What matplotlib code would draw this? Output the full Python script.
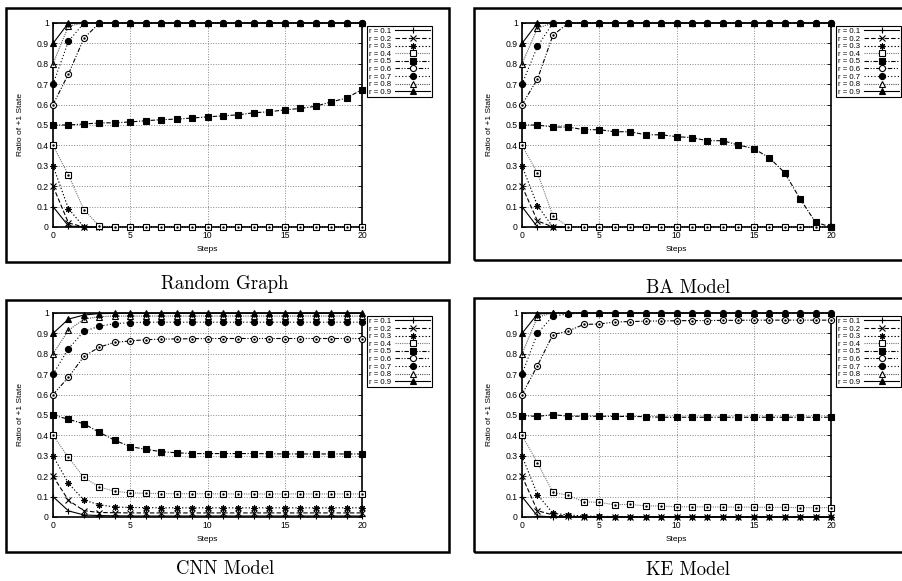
import matplotlib.pyplot as plt
from matplotlib.patches import Rectangle

plt.rcParams['font.family'] = ['Liberation Sans', 'DejaVu Sans']

steps = list(range(21))
labels = ['r = 0.1', 'r = 0.2', 'r = 0.3', 'r = 0.4', 'r = 0.5',
          'r = 0.6', 'r = 0.7', 'r = 0.8', 'r = 0.9']

# Random Graph
rg_01 = [0.1, 0.005, 0, 0, 0, 0, 0, 0, 0, 0, 0, 0, 0, 0, 0, 0, 0, 0, 0, 0, 0]
rg_02 = [0.2, 0.02, 0, 0, 0, 0, 0, 0, 0, 0, 0, 0, 0, 0, 0, 0, 0, 0, 0, 0, 0]
rg_03 = [0.3, 0.09, 0, 0, 0, 0, 0, 0, 0, 0, 0, 0, 0, 0, 0, 0, 0, 0, 0, 0, 0]
rg_04 = [0.4, 0.255, 0.085, 0.005, 0, 0, 0, 0, 0, 0, 0, 0, 0, 0, 0, 0, 0, 0, 0, 0, 0]
rg_05 = [0.5, 0.5, 0.505, 0.51, 0.511, 0.515, 0.521, 0.526, 0.529, 0.534, 0.54,
         0.545, 0.55, 0.56, 0.565, 0.574, 0.581, 0.592, 0.613, 0.632, 0.674]
rg_06 = [0.6, 0.75, 0.925, 1, 1, 1, 1, 1, 1, 1, 1, 1, 1, 1, 1, 1, 1, 1, 1, 1, 1]
rg_07 = [0.7, 0.91, 1, 1, 1, 1, 1, 1, 1, 1, 1, 1, 1, 1, 1, 1, 1, 1, 1, 1, 1]
rg_08 = [0.8, 0.985, 1, 1, 1, 1, 1, 1, 1, 1, 1, 1, 1, 1, 1, 1, 1, 1, 1, 1, 1]
rg_09 = [0.9, 1, 1, 1, 1, 1, 1, 1, 1, 1, 1, 1, 1, 1, 1, 1, 1, 1, 1, 1, 1]

# BA Model
ba_01 = [0.1, 0.0, 0, 0, 0, 0, 0, 0, 0, 0, 0, 0, 0, 0, 0, 0, 0, 0, 0, 0, 0]
ba_02 = [0.2, 0.03, 0, 0, 0, 0, 0, 0, 0, 0, 0, 0, 0, 0, 0, 0, 0, 0, 0, 0, 0]
ba_03 = [0.3, 0.105, 0, 0, 0, 0, 0, 0, 0, 0, 0, 0, 0, 0, 0, 0, 0, 0, 0, 0, 0]
ba_04 = [0.4, 0.265, 0.055, 0, 0, 0, 0, 0, 0, 0, 0, 0, 0, 0, 0, 0, 0, 0, 0, 0, 0]
ba_05 = [0.5, 0.5, 0.49, 0.49, 0.477, 0.477, 0.467, 0.467, 0.452, 0.452, 0.443,
         0.438, 0.423, 0.423, 0.402, 0.384, 0.34, 0.266, 0.138, 0.023, 0.0]
ba_06 = [0.6, 0.725, 0.94, 1, 1, 1, 1, 1, 1, 1, 1, 1, 1, 1, 1, 1, 1, 1, 1, 1, 1]
ba_07 = [0.7, 0.885, 1, 1, 1, 1, 1, 1, 1, 1, 1, 1, 1, 1, 1, 1, 1, 1, 1, 1, 1]
ba_08 = [0.8, 0.975, 1, 1, 1, 1, 1, 1, 1, 1, 1, 1, 1, 1, 1, 1, 1, 1, 1, 1, 1]
ba_09 = [0.9, 1, 1, 1, 1, 1, 1, 1, 1, 1, 1, 1, 1, 1, 1, 1, 1, 1, 1, 1, 1]

# CNN Model
cnn_01 = [0.1, 0.03, 0.01, 0.007, 0.006, 0.005, 0.005, 0.005, 0.005, 0.005, 0.005,
          0.005, 0.005, 0.005, 0.005, 0.005, 0.005, 0.005, 0.005, 0.005, 0.005]
cnn_02 = [0.2, 0.082, 0.031, 0.022, 0.021, 0.02, 0.02, 0.02, 0.02, 0.02, 0.02,
          0.02, 0.02, 0.02, 0.02, 0.02, 0.02, 0.02, 0.02, 0.02, 0.02]
cnn_03 = [0.3, 0.165, 0.083, 0.06, 0.049, 0.047, 0.046, 0.045, 0.045, 0.045, 0.045,
          0.045, 0.045, 0.045, 0.045, 0.045, 0.045, 0.045, 0.045, 0.045, 0.045]
cnn_04 = [0.4, 0.292, 0.194, 0.147, 0.126, 0.118, 0.116, 0.115, 0.114, 0.114, 0.114,
          0.113, 0.113, 0.113, 0.113, 0.113, 0.113, 0.113, 0.113, 0.113, 0.113]
cnn_05 = [0.5, 0.479, 0.457, 0.415, 0.376, 0.345, 0.332, 0.32, 0.315, 0.311, 0.311,
          0.311, 0.311, 0.311, 0.31, 0.309, 0.309, 0.309, 0.309, 0.309, 0.309]
cnn_06 = [0.6, 0.685, 0.787, 0.833, 0.856, 0.863, 0.869, 0.872, 0.873, 0.874, 0.875,
          0.875, 0.875, 0.875, 0.875, 0.875, 0.875, 0.875, 0.875, 0.875, 0.875]
cnn_07 = [0.7, 0.825, 0.91, 0.935, 0.948, 0.953, 0.955, 0.955, 0.955, 0.955, 0.955,
          0.955, 0.955, 0.955, 0.955, 0.955, 0.955, 0.955, 0.955, 0.955, 0.955]
cnn_08 = [0.8, 0.915, 0.97, 0.982, 0.985, 0.985, 0.985, 0.985, 0.985, 0.985, 0.985,
          0.985, 0.985, 0.985, 0.985, 0.985, 0.985, 0.985, 0.985, 0.985, 0.985]
cnn_09 = [0.9, 0.97, 0.99, 0.997, 0.998, 0.999, 0.999, 0.999, 0.999, 0.999, 0.999,
          0.999, 0.999, 0.999, 0.999, 0.999, 0.999, 0.999, 0.999, 0.999, 0.999]

# KE Model
ke_01 = [0.1, 0.005, 0, 0, 0, 0, 0, 0, 0, 0, 0, 0, 0, 0, 0, 0, 0, 0, 0, 0, 0]
ke_02 = [0.2, 0.031, 0.01, 0.003, 0, 0, 0, 0, 0, 0, 0, 0, 0, 0, 0, 0, 0, 0, 0, 0, 0]
ke_03 = [0.3, 0.11, 0.018, 0.01, 0.005, 0.003, 0.002, 0.001, 0, 0, 0,
         0, 0, 0, 0, 0, 0, 0, 0, 0, 0]
ke_04 = [0.4, 0.266, 0.121, 0.106, 0.074, 0.072, 0.06, 0.062, 0.054, 0.054, 0.05,
         0.05, 0.049, 0.049, 0.048, 0.048, 0.047, 0.047, 0.046, 0.046, 0.046]
ke_05 = [0.497, 0.493, 0.502, 0.494, 0.494, 0.494, 0.493, 0.493, 0.492, 0.489, 0.489,
         0.489, 0.489, 0.489, 0.489, 0.489, 0.489, 0.489, 0.489, 0.489, 0.489]
ke_06 = [0.6, 0.742, 0.894, 0.912, 0.944, 0.946, 0.956, 0.958, 0.96, 0.961, 0.962,
         0.963, 0.963, 0.964, 0.964, 0.965, 0.965, 0.965, 0.965, 0.965, 0.965]
ke_07 = [0.7, 0.9, 0.985, 0.995, 1, 1, 1, 1, 1, 1, 1, 1, 1, 1, 1, 1, 1, 1, 1, 1, 1]
ke_08 = [0.8, 0.98, 1, 1, 1, 1, 1, 1, 1, 1, 1, 1, 1, 1, 1, 1, 1, 1, 1, 1, 1]
ke_09 = [0.9, 0.995, 1, 1, 1, 1, 1, 1, 1, 1, 1, 1, 1, 1, 1, 1, 1, 1, 1, 1, 1]

panels = [
    ('Random Graph', [rg_01, rg_02, rg_03, rg_04, rg_05, rg_06, rg_07, rg_08, rg_09]),
    ('BA Model', [ba_01, ba_02, ba_03, ba_04, ba_05, ba_06, ba_07, ba_08, ba_09]),
    ('CNN Model', [cnn_01, cnn_02, cnn_03, cnn_04, cnn_05, cnn_06, cnn_07, cnn_08, cnn_09]),
    ('KE Model', [ke_01, ke_02, ke_03, ke_04, ke_05, ke_06, ke_07, ke_08, ke_09]),
]

# gnuplot-ish line styles: (color, dashes, marker, filled, dot in centre)
styles = [
    ('black', '-', '+', True, False),
    ('black', (0, (4, 2)), 'x', True, False),
    ('black', (0, (1.2, 1.8)), (8, 2, 0), True, False),
    ('#777777', (0, (1, 1)), 's', False, True),
    ('black', (0, (4, 1.5, 1, 1.5)), 's', True, False),
    ('black', (0, (4, 1.5, 1, 1.5, 1, 1.5)), 'o', False, True),
    ('black', (0, (1, 2)), 'o', True, False),
    ('#555555', (0, (1, 1)), '^', False, True),
    ('black', '-', '^', True, False),
]

W, H = 902, 581
fig = plt.figure(figsize=(W / 100, H / 100), dpi=100)

# pixel geometry of each panel: axes left, axes top, frame box, caption centre
layout = [
    (53, 23, (6, 8, 449, 262), (225, 284)),
    (522, 23, (474, 8, 906, 260), (688, 288)),
    (53, 313, (6, 300, 449, 552), (225, 569)),
    (522, 313, (474, 298, 906, 552), (688, 570)),
]
aw, ah = 309, 204

for (title, series), (ax_l, ax_t, frame, cap) in zip(panels, layout):
    ax = fig.add_axes([ax_l / W, 1 - (ax_t + ah) / H, aw / W, ah / H])
    for vals, lab, (col, ls, mk, filled, dot) in zip(series, labels, styles):
        ax.plot(steps, vals, color=col, linestyle=ls, linewidth=0.8,
                marker=mk, markersize=4.4 if mk not in ('+', 'x') else 5,
                markerfacecolor='black' if filled else 'white',
                markeredgecolor='black', markeredgewidth=0.8,
                label=lab, clip_on=False, zorder=3)
        if dot:
            ax.plot(steps, vals, linestyle='none', marker='.', markersize=1.5,
                    color='black', clip_on=False, zorder=4)
    ax.set_xlim(0, 20)
    ax.set_ylim(0, 1)
    ax.set_xticks([0, 5, 10, 15, 20])
    ax.set_yticks([0, 0.1, 0.2, 0.3, 0.4, 0.5, 0.6, 0.7, 0.8, 0.9, 1])
    ax.set_yticklabels(['0', '0.1', '0.2', '0.3', '0.4', '0.5', '0.6',
                        '0.7', '0.8', '0.9', '1'])
    ax.tick_params(direction='in', length=3, width=0.6, labelsize=6.2, pad=3,
                   top=True, right=True)
    ax.grid(True, color='#888888', linestyle=':', linewidth=0.7)
    for s in ax.spines.values():
        s.set_linewidth(1.2)
    ax.set_xlabel('Steps', fontsize=6, labelpad=4)
    ax.set_ylabel('Ratio of +1 State', fontsize=6, labelpad=9)
    leg = ax.legend(loc='upper right', bbox_to_anchor=(379 / aw, 0.985),
                    fontsize=5.6, markerfirst=False, frameon=True, fancybox=False,
                    framealpha=1, edgecolor='black', borderpad=0.2,
                    labelspacing=0.02, handlelength=4.6, handletextpad=0.5,
                    borderaxespad=0)
    leg.get_frame().set_linewidth(0.8)
    leg.set_zorder(5)

    x0, y0, x1, y1 = frame
    fig.patches.append(Rectangle((x0 / W, 1 - y1 / H), (x1 - x0) / W, (y1 - y0) / H,
                                 transform=fig.transFigure, fill=False,
                                 edgecolor='black', linewidth=1.8))
    fig.text(cap[0] / W, 1 - cap[1] / H, title, fontsize=13.5, family='cmr10',
             ha='center', va='center')

plt.savefig('out.png', dpi=100)
